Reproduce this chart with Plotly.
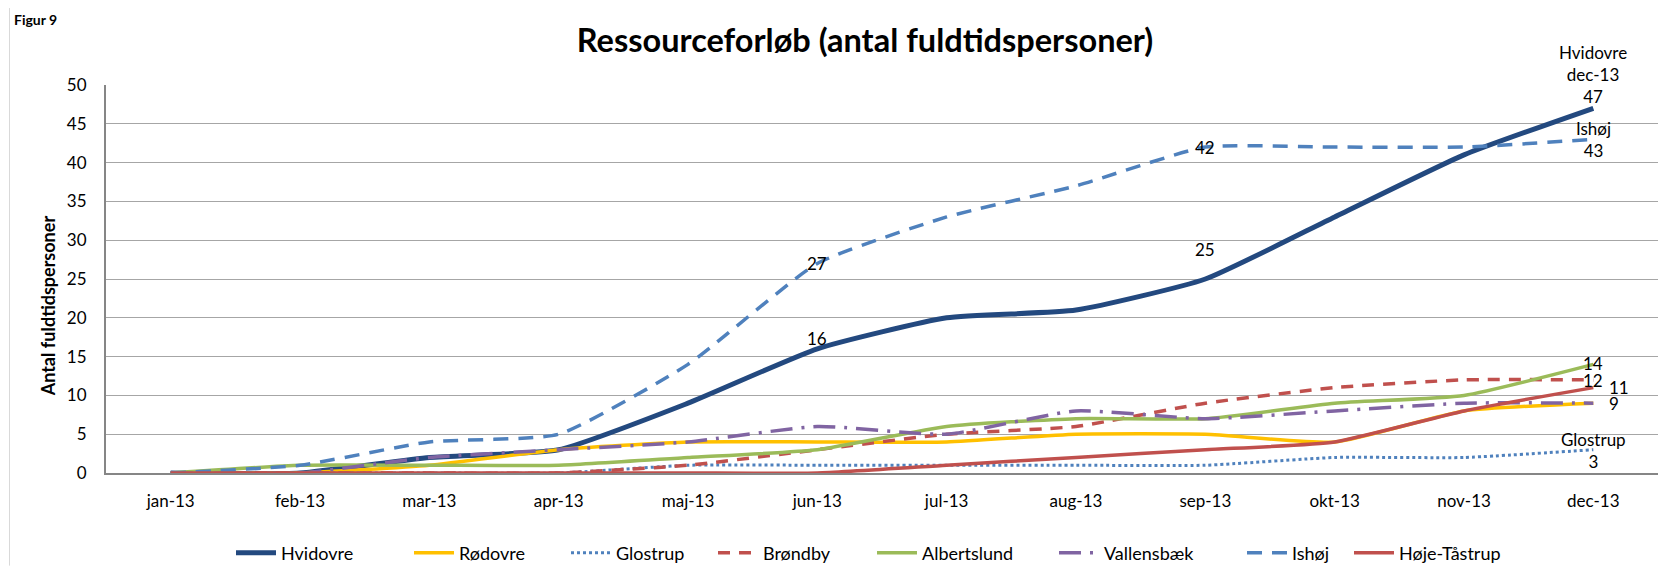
import plotly.graph_objects as go

months = ["jan-13", "feb-13", "mar-13", "apr-13", "maj-13", "jun-13",
          "jul-13", "aug-13", "sep-13", "okt-13", "nov-13", "dec-13"]

hvidovre = [0, 0, 2, 3, 9, 16, 20, 21, 25, 33, 41, 47]
roedovre = [0, 0, 1, 3, 4, 4, 4, 5, 5, 4, 8, 9]
glostrup = [0, 0, 0, 0, 1, 1, 1, 1, 1, 2, 2, 3]
broendby = [0, 0, 0, 0, 1, 3, 5, 6, 9, 11, 12, 12]
albertslund = [0, 1, 1, 1, 2, 3, 6, 7, 7, 9, 10, 14]
vallensbaek = [0, 0, 2, 3, 4, 6, 5, 8, 7, 8, 9, 9]
ishoej = [0, 1, 4, 5, 14, 27, 33, 37, 42, 42, 42, 43]
hoeje_taastrup = [0, 0, 0, 0, 0, 0, 1, 2, 3, 4, 8, 11]

y_ticks = [0, 5, 10, 15, 20, 25, 30, 35, 40, 45, 50]

FONT = "Lato"

# figure is drawn 8px in from the page corner (body margin)
W, H = 1652, 558
L, R, T, B = 97.5, 2, 77, 92.7
PW = W - L - R
PH = H - T - B

def px(xf):
    return (xf - L) / PW

def py(yf):
    return (H - B - yf) / PH

series = [
    ("Hvidovre", hvidovre, "#23497F", 5, "solid"),
    ("Rødovre", roedovre, "#FFC000", 3.5, "solid"),
    ("Glostrup", glostrup, "#4F81BD", 3, "dot"),
    ("Brøndby", broendby, "#C0504D", 3.5, "12px,9px"),
    ("Albertslund", albertslund, "#9BBB59", 3.5, "solid"),
    ("Vallensbæk", vallensbaek, "#8064A2", 3.5, "22px,9px,3px,9px"),
    ("Ishøj", ishoej, "#4F81BD", 3.5, "15px,10px"),
    ("Høje-Tåstrup", hoeje_taastrup, "#C0504D", 3.5, "solid"),
]

# legend sample start positions (figure px)
legend_x = [229, 407, 564, 711, 870, 1052, 1240, 1347]

fig = go.Figure()
x_idx = list(range(len(months)))
legend_layout = {}
for i, (name, vals, color, width, dash) in enumerate(series):
    lname = "legend" if i == 0 else "legend%d" % (i + 1)
    fig.add_trace(go.Scatter(
        x=x_idx, y=vals, name=name, mode="lines", legend=lname,
        line=dict(color=color, width=width, dash=dash, shape="spline", smoothing=0.5),
    ))
    legend_layout[lname] = dict(
        orientation="h", xref="container", yref="container",
        x=(legend_x[i] - 6) / W, xanchor="left",
        y=1 - 545 / H, yanchor="middle", font=dict(family=FONT, size=18, color="#000000"),
        bgcolor="rgba(0,0,0,0)", borderwidth=0, itemwidth=40,
    )

def lab(text, xi, yv, xshift=0, yshift=0, xanchor="center"):
    fig.add_annotation(x=xi, y=yv, xref="x", yref="y", text=text, showarrow=False,
                       xshift=xshift, yshift=yshift, xanchor=xanchor,
                       font=dict(family=FONT, size=17, color="#000000"))

lab(str(hvidovre[5]), 5, hvidovre[5], yshift=10)
lab(str(hvidovre[8]), 8, hvidovre[8], yshift=30)
lab("Hvidovre<br>dec-13<br>" + str(hvidovre[11]), 11, hvidovre[11], yshift=34)
lab(str(ishoej[5]), 5, ishoej[5])
lab(str(ishoej[8]), 8, ishoej[8])
lab("Ishøj<br>" + str(ishoej[11]), 11, ishoej[11])
lab("Glostrup<br>" + str(glostrup[11]), 11, glostrup[11], yshift=-1)
lab(str(albertslund[11]), 11, albertslund[11], yshift=1)
lab(str(broendby[11]), 11, broendby[11], yshift=-1)
lab(str(hoeje_taastrup[11]), 11, hoeje_taastrup[11], xshift=26)
lab(str(roedovre[11]), 11, roedovre[11], xshift=21)

fig.add_annotation(x=px(3), y=py(11), xref="paper", yref="paper", text="<b>Figur 9</b>",
                   showarrow=False, xanchor="left", yanchor="middle",
                   font=dict(family=FONT, size=14, color="#000000"))

fig.add_annotation(x=px(39), y=py(298), xref="paper", yref="paper",
                   text="<b>Antal fuldtidspersoner</b>", textangle=-90,
                   showarrow=False, xanchor="center", yanchor="middle",
                   font=dict(family=FONT, size=18, color="#000000"))

fig.update_layout(
    width=W, height=H,
    margin=dict(l=L, r=R, t=T, b=B, pad=0),
    paper_bgcolor="#FFFFFF", plot_bgcolor="#FFFFFF",
    font=dict(family=FONT, size=17, color="#000000"),
    title=dict(text="<b>Ressourceforløb (antal fuldtidspersoner)</b>",
               x=857 / W, xanchor="center", y=1 - 32.4 / H, yanchor="middle",
               font=dict(family=FONT, size=32.5, color="#000000")),
    xaxis=dict(range=[-0.5, 11.5], tickmode="array", tickvals=x_idx, ticktext=months,
               showgrid=False, showline=True, linecolor="#868686", linewidth=2,
               ticks="", zeroline=False, tickfont=dict(size=17), ticklabelstandoff=12,
               automargin=False),
    yaxis=dict(range=[0, 50], tickmode="array", tickvals=y_ticks,
               showgrid=True, gridcolor="#A6A6A6", gridwidth=1,
               showline=True, linecolor="#868686", linewidth=2, zeroline=False,
               ticks="", tickfont=dict(size=17), ticklabelstandoff=14,
               automargin=False),
    showlegend=True,
    **legend_layout,
)

fig.add_shape(type="line", xref="paper", yref="paper",
              x0=px(1), x1=px(1), y0=py(0), y1=py(H),
              line=dict(color="#D9D9D9", width=1))

fig.write_html("out.html")
